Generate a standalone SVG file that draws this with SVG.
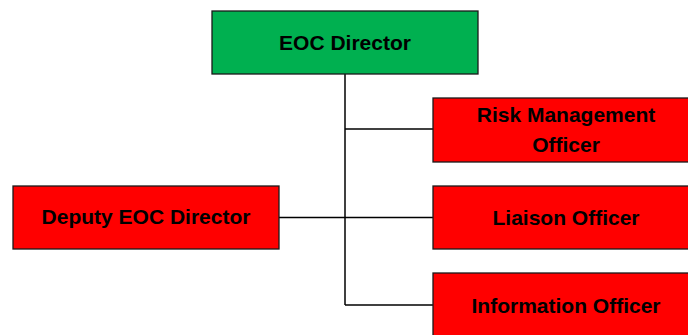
<svg xmlns="http://www.w3.org/2000/svg" width="688" height="335" viewBox="0 0 688 335">
  <style>
    .box { stroke: #1a1a1a; stroke-width: 1.3; }
    .lead { fill: #00B050; }
    .staff { fill: #FF0000; }
    .label { font-family: "Liberation Sans", Arial, sans-serif; font-weight: bold; font-size: 21px; fill: #000; text-anchor: middle; }
    .link { stroke: #000; stroke-width: 1.5; fill: none; }
  </style>
  <rect width="688" height="335" fill="#fff"/>
  <g id="connectors">
    <path class="link" d="M345 74 V305"/>
    <path class="link" d="M345 129 H433"/>
    <path class="link" d="M279 217.5 H433"/>
    <path class="link" d="M345 305 H433"/>
  </g>
  <g id="eoc-director">
    <rect class="box lead" x="212" y="11" width="266" height="63"/>
    <text class="label" x="345" y="50">EOC Director</text>
  </g>
  <g id="risk-management-officer">
    <rect class="box staff" x="433" y="98" width="266" height="64"/>
    <text class="label" x="566" y="122">Risk Management</text>
    <text class="label" x="566" y="152">Officer</text>
  </g>
  <g id="liaison-officer">
    <rect class="box staff" x="433" y="186" width="266" height="63"/>
    <text class="label" x="566" y="225">Liaison Officer</text>
  </g>
  <g id="information-officer">
    <rect class="box staff" x="433" y="273" width="266" height="70"/>
    <text class="label" x="566" y="313">Information Officer</text>
  </g>
  <g id="deputy-eoc-director">
    <rect class="box staff" x="13" y="186" width="266" height="63"/>
    <text class="label" x="146" y="224">Deputy EOC Director</text>
  </g>
</svg>
